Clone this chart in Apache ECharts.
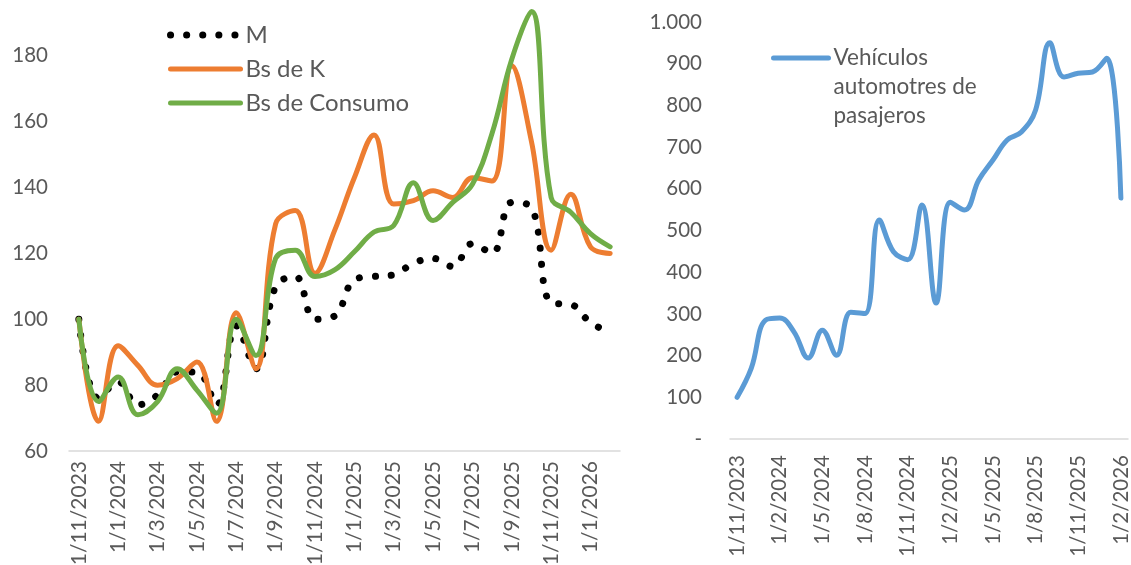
<!DOCTYPE html>
<html>
<head>
<meta charset="utf-8">
<script src="https://cdn.jsdelivr.net/npm/echarts@6.0.0/dist/echarts.min.js"></script>
<style>
  html, body { margin: 0; padding: 0; background: #fff; }
  #chart { width: 1131px; height: 565px; }
</style>
</head>
<body>
<div id="chart"></div>
<script>
var months = ['1/11/2023', '1/12/2023', '1/1/2024', '1/2/2024', '1/3/2024', '1/4/2024',
  '1/5/2024', '1/6/2024', '1/7/2024', '1/8/2024', '1/9/2024', '1/10/2024', '1/11/2024',
  '1/12/2024', '1/1/2025', '1/2/2025', '1/3/2025', '1/4/2025', '1/5/2025', '1/6/2025',
  '1/7/2025', '1/8/2025', '1/9/2025', '1/10/2025', '1/11/2025', '1/12/2025', '1/1/2026',
  '1/2/2026'];

// left panel (indices)
var serieM = [100, 76, 81, 74, 77, 84, 84, 74, 98, 85, 110, 113, 100, 101, 112, 113,
  113.5, 117, 118.5, 116, 123, 120, 135.5, 134, 105, 104.5, 99, 96];
var serieK = [100, 69, 92, 86, 80, 82, 87, 69, 102, 85, 129, 133, 114, 127, 143, 156,
  135, 136, 139, 137, 143, 142, 177, 154, 121, 138, 122, 120];
var serieConsumo = [100, 75, 82.5, 71, 75, 85, 78.5, 71.5, 100, 89, 118.5, 121, 113, 115,
  120.5, 126.5, 128.5, 141.5, 130, 135.5, 141, 156.5, 179, 193.5, 137, 132.5, 126, 122];

// right panel
var serieVehiculos = [100, 170, 285, 290, 257, 194, 261, 201, 304, 301, 525, 449, 430, 561,
  326, 568, 549, 621, 669, 717, 736, 789, 950, 868, 877, 880, 913, 578];

var font = 'Lato';
var gris = '#595959';

var chart = echarts.init(document.getElementById('chart'));

var option = {
  animation: false,
  textStyle: { fontFamily: font },
  legend: [
    {
      orient: 'vertical',
      left: 167,
      top: 23,
      padding: 0,
      itemWidth: 70,
      itemHeight: 14,
      itemGap: 10,
      itemStyle: { opacity: 0 },
      textStyle: { fontSize: 24, color: gris, lineHeight: 24, fontFamily: font },
      data: [
        { name: 'M', lineStyle: { width: 7, type: [0.1, 16], cap: 'round' } },
        { name: 'Bs de K', lineStyle: { width: 5 } },
        { name: 'Bs de Consumo', lineStyle: { width: 5 } }
      ]
    },
    {
      orient: 'vertical',
      left: 771,
      top: -14.5,
      padding: 0,
      itemWidth: 55,
      itemHeight: 14,
      itemStyle: { opacity: 0 },
      lineStyle: { width: 5 },
      formatter: function (name) { return '\n\n' + name; },
      textStyle: { fontSize: 22.5, color: gris, lineHeight: 29, fontFamily: font },
      data: ['Vehículos\nautomotres de\npasajeros']
    }
  ],
  grid: [
    { left: 69, right: 511, top: -10, bottom: 114, outerBoundsMode: 'none' },
    { left: 730, right: 3, top: 22, bottom: 126, outerBoundsMode: 'none' }
  ],
  xAxis: [
    {
      type: 'category',
      gridIndex: 0,
      data: months,
      axisLine: { lineStyle: { color: '#d9d9d9', width: 1.5 } },
      axisTick: { show: false },
      axisLabel: { rotate: 90, interval: 1, fontSize: 21, color: gris, margin: 10 }
    },
    {
      type: 'category',
      gridIndex: 1,
      data: months,
      axisLine: { lineStyle: { color: '#d9d9d9', width: 1.5 } },
      axisTick: { show: false },
      axisLabel: { rotate: 90, interval: 2, fontSize: 20.5, color: gris, margin: 16 }
    }
  ],
  yAxis: [
    {
      type: 'value',
      gridIndex: 0,
      min: 60,
      max: 200,
      interval: 20,
      splitLine: { show: false },
      axisLine: { show: false },
      axisTick: { show: false },
      axisLabel: {
        fontSize: 20.5, color: gris, margin: 21,
        formatter: function (v) { return v >= 200 ? '' : v; }
      }
    },
    {
      type: 'value',
      gridIndex: 1,
      min: 0,
      max: 1000,
      interval: 100,
      splitLine: { show: false },
      axisLine: { show: false },
      axisTick: { show: false },
      axisLabel: {
        fontSize: 20.5, color: gris, margin: 28,
        formatter: function (v) {
          if (v === 0) return '-';
          if (v >= 1000) return '1.000';
          return v;
        }
      }
    }
  ],
  series: [
    {
      name: 'M',
      type: 'line',
      xAxisIndex: 0,
      yAxisIndex: 0,
      data: serieM,
      smooth: 0.4,
      symbol: 'none',
      z: 3,
      lineStyle: { color: '#000', width: 7, type: [0.1, 16], cap: 'round' },
      itemStyle: { color: '#000' }
    },
    {
      name: 'Bs de K',
      type: 'line',
      xAxisIndex: 0,
      yAxisIndex: 0,
      data: serieK,
      smooth: 0.4,
      symbol: 'none',
      lineStyle: { color: '#ED7D31', width: 5, cap: 'round' },
      itemStyle: { color: '#ED7D31' }
    },
    {
      name: 'Bs de Consumo',
      type: 'line',
      xAxisIndex: 0,
      yAxisIndex: 0,
      data: serieConsumo,
      smooth: 0.4,
      symbol: 'none',
      lineStyle: { color: '#70AD47', width: 5, cap: 'round' },
      itemStyle: { color: '#70AD47' }
    },
    {
      name: 'Vehículos\nautomotres de\npasajeros',
      type: 'line',
      xAxisIndex: 1,
      yAxisIndex: 1,
      data: serieVehiculos,
      smooth: 0.4,
      symbol: 'none',
      lineStyle: { color: '#5B9BD5', width: 5, cap: 'round' },
      itemStyle: { color: '#5B9BD5' }
    }
  ]
};

chart.setOption(option);
</script>
</body>
</html>
